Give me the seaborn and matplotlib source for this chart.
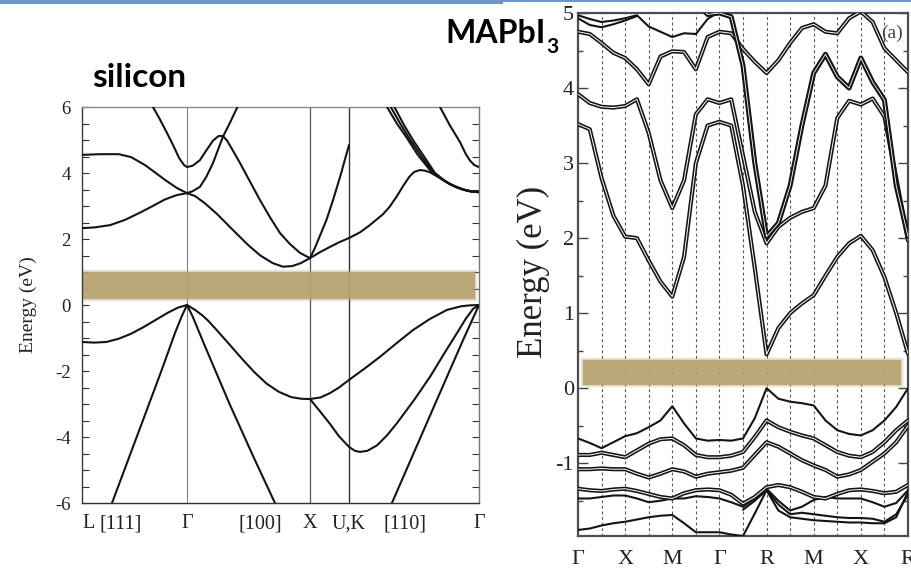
import matplotlib
matplotlib.use("Agg")
import matplotlib.pyplot as plt
import matplotlib.patheffects as pe
from matplotlib.patches import Rectangle
from matplotlib.ticker import MultipleLocator
import pandas as pd
import seaborn as sns

# ---------------- silicon: L -> Gamma -> X -> U,K -> Gamma ----------------
SI_KPOINTS = [0.0, 0.854, 1.854, 2.171, 3.228]
SI_KLABELS = ["L", "Γ", "X", "U,K", "Γ"]
SI_DIR_K = [0.317, 1.447, 2.626]
SI_DIR_LABELS = ["[111]", "[100]", "[110]"]
SI_GAP_K = [0.01, 3.195]
SI_GAP_E = [0.17, 1.01]

# each band: list of (k, E) in eV
SI_B1 = [(0.0, -8.4), (0.244, -6.0), (0.5, -3.45), (0.65, -1.95), (0.756, -0.85), (0.81, -0.35), (0.854, 0.0)]
SI_B2 = [(0.0, -1.12), (0.1, -1.14), (0.2, -1.12), (0.3, -1.02), (0.4, -0.87), (0.5, -0.67),
         (0.6, -0.45), (0.7, -0.23), (0.78, -0.08), (0.854, 0.0)]
SI_B3 = [(0.0, 2.33), (0.1, 2.35), (0.228, 2.42), (0.35, 2.58), (0.472, 2.8), (0.575, 3.0),
         (0.675, 3.2), (0.77, 3.33), (0.854, 3.39)]
SI_B4 = [(0.0, 4.55), (0.15, 4.57), (0.3, 4.57), (0.4, 4.48), (0.512, 4.24), (0.6, 4.0), (0.675, 3.79),
         (0.77, 3.55), (0.854, 3.39), (0.92, 3.3), (1.0, 3.08), (1.1, 2.75), (1.228, 2.27), (1.35, 1.82),
         (1.45, 1.5), (1.55, 1.27), (1.634, 1.16), (1.71, 1.18), (1.78, 1.27), (1.854, 1.42)]
SI_B5 = [(0.5, 6.5), (0.577, 6.0), (0.63, 5.65), (0.69, 5.22), (0.74, 4.85), (0.79, 4.45), (0.83, 4.24),
         (0.854, 4.18), (0.9, 4.22), (0.959, 4.39), (1.01, 4.68), (1.065, 4.98), (1.11, 5.12), (1.146, 5.12),
         (1.18, 4.98), (1.23, 4.66), (1.285, 4.3), (1.36, 3.78), (1.447, 3.18), (1.53, 2.65), (1.61, 2.18),
         (1.69, 1.85), (1.772, 1.58), (1.854, 1.42)]
SI_B6 = [(0.854, 3.39), (0.9, 3.45), (0.959, 3.58), (1.01, 3.88), (1.065, 4.3), (1.146, 5.1),
         (1.2, 5.5), (1.26, 5.97), (1.32, 6.5)]
SI_B7 = [(1.854, 1.42), (1.895, 1.74), (1.935, 2.1), (1.99, 2.6), (2.041, 3.18), (2.1, 3.9), (2.171, 4.85)]
SI_B8 = [(1.854, 1.42), (1.935, 1.6), (2.016, 1.76), (2.09, 1.9), (2.171, 2.03), (2.26, 2.2), (2.34, 2.42),
         (2.447, 2.75), (2.5, 2.97), (2.561, 3.3), (2.61, 3.6), (2.66, 3.88), (2.7, 4.03), (2.748, 4.09),
         (2.79, 4.07), (2.83, 4.02), (2.9, 3.87), (2.95, 3.75), (3.03, 3.6), (3.1, 3.5), (3.17, 3.44),
         (3.228, 3.42)]
SI_B9A = [(2.42, 6.4), (2.48, 6.0), (2.56, 5.5), (2.642, 5.06), (2.73, 4.55), (2.829, 4.09), (2.9, 3.88),
          (2.967, 3.72), (3.03, 3.6), (3.1, 3.5), (3.17, 3.44), (3.228, 3.42)]
SI_B9B = [(2.45, 6.4), (2.51, 6.0), (2.59, 5.48), (2.67, 5.0), (2.76, 4.5), (2.85, 4.05), (2.92, 3.84),
          (2.98, 3.68), (3.04, 3.58), (3.1, 3.5), (3.17, 3.44), (3.228, 3.42)]
SI_B9C = [(2.48, 6.4), (2.54, 6.0), (2.62, 5.44), (2.70, 4.95), (2.79, 4.45), (2.87, 4.0), (2.94, 3.79),
          (3.0, 3.64), (3.06, 3.54), (3.12, 3.47), (3.17, 3.43), (3.228, 3.42)]
SI_B10 = [(2.87, 6.4), (2.911, 6.0), (2.99, 5.45), (3.073, 4.94), (3.12, 4.58), (3.154, 4.38),
          (3.19, 4.24), (3.228, 4.18)]
SI_B11 = [(0.854, 0.0), (0.92, -0.15), (0.98, -0.32), (1.024, -0.47), (1.1, -0.78), (1.2, -1.2),
          (1.301, -1.63), (1.4, -2.03), (1.5, -2.38), (1.6, -2.63), (1.7, -2.79), (1.78, -2.84),
          (1.854, -2.85), (1.94, -2.8), (2.016, -2.67), (2.09, -2.5), (2.171, -2.27), (2.3, -1.92),
          (2.423, -1.57), (2.56, -1.15), (2.691, -0.76), (2.83, -0.42), (2.967, -0.15), (3.08, -0.04),
          (3.154, -0.01), (3.228, 0.0)]
SI_B12 = [(1.854, -2.85), (1.93, -3.2), (2.016, -3.6), (2.09, -3.98), (2.171, -4.3), (2.22, -4.42),
          (2.26, -4.45), (2.32, -4.42), (2.4, -4.25), (2.48, -3.95), (2.561, -3.58), (2.7, -2.88),
          (2.829, -2.18), (2.94, -1.5), (3.049, -0.85), (3.12, -0.42), (3.179, -0.12), (3.228, 0.0)]
SI_B13 = [(0.854, 0.0), (0.9, -0.35), (1.0, -1.25), (1.2, -3.0), (1.4, -4.65), (1.569, -6.0), (1.854, -8.4)]
SI_B14 = [(2.171, -8.97), (2.52, -6.0), (2.9, -2.75), (3.1, -1.05), (3.228, 0.0)]

# ---------------- MAPbI3: Gamma-X-M-Gamma-R-M-X-R ----------------
MA_KPOINTS = [0, 1, 2, 3, 4, 5, 6, 7]
MA_KLABELS = ["Γ", "X", "M", "Γ", "R", "M", "X", "R"]
MA_GRID_K = [0.5, 1.0, 1.5, 2.0, 2.5, 3.0, 3.5, 4.0, 4.5, 5.0, 5.5, 6.0, 6.5]
MA_GAP_K = [0.1, 6.86]
MA_GAP_E = [0.04, 0.37]

MA_K = [0.0, 0.25, 0.5, 0.75, 1.0, 1.25, 1.5, 1.75, 2.0, 2.25, 2.5, 2.75, 3.0, 3.25, 3.5,
        3.75, 4.0, 4.25, 4.5, 4.75, 5.0, 5.25, 5.5, 5.75, 6.0, 6.25, 6.5, 6.75, 7.0]
VB1 = [-0.67, -0.73, -0.80, -0.72, -0.64, -0.60, -0.52, -0.43, -0.24, -0.47, -0.67, -0.70, -0.69, -0.70, -0.67,
       -0.40, 0.00, -0.14, -0.18, -0.20, -0.23, -0.43, -0.56, -0.61, -0.63, -0.56, -0.43, -0.25, 0.00]
VB2 = [-0.89, -0.89, -0.86, -0.89, -0.92, -0.83, -0.74, -0.68, -0.67, -0.76, -0.89, -0.92, -0.92, -0.90, -0.85,
       -0.65, -0.43, -0.52, -0.58, -0.63, -0.67, -0.76, -0.85, -0.90, -0.92, -0.85, -0.72, -0.56, -0.43]
VB3 = [-1.08, -1.08, -1.07, -1.08, -1.08, -1.14, -1.19, -1.14, -1.08, -1.11, -1.18, -1.14, -1.12, -1.10, -1.06,
       -0.89, -0.72, -0.78, -0.87, -0.96, -1.03, -1.09, -1.18, -1.15, -1.09, -0.98, -0.87, -0.72, -0.50]
VB4 = [-1.34, -1.36, -1.37, -1.35, -1.34, -1.37, -1.41, -1.45, -1.47, -1.40, -1.36, -1.35, -1.36, -1.42, -1.54,
       -1.45, -1.32, -1.29, -1.32, -1.38, -1.45, -1.47, -1.41, -1.36, -1.35, -1.37, -1.40, -1.38, -1.29]
VB5 = [-1.47, -1.47, -1.45, -1.43, -1.43, -1.47, -1.52, -1.50, -1.47, -1.47, -1.44, -1.45, -1.47, -1.52, -1.58,
       -1.47, -1.34, -1.50, -1.63, -1.58, -1.49, -1.45, -1.47, -1.47, -1.47, -1.52, -1.58, -1.53, -1.36]
VB6_K = [3.5, 3.75, 4.0, 4.25, 4.5, 4.75, 5.0, 5.25, 5.5, 5.75, 6.0, 6.25, 6.5, 6.75, 7.0]
VB6 = [-1.62, -1.50, -1.36, -1.55, -1.68, -1.66, -1.68, -1.70, -1.72, -1.73, -1.73, -1.74, -1.78, -1.68, -1.42]
VB7 = [-1.89, -1.87, -1.83, -1.80, -1.78, -1.75, -1.72, -1.70, -1.69, -1.80, -1.92, -1.92, -1.92, -1.95, -1.97,
       -1.67, -1.36, -1.63, -1.72, -1.74, -1.76, -1.77, -1.78, -1.79, -1.79, -1.80, -1.80, -1.72, -1.38]
CB1 = [3.52, 3.45, 2.80, 2.30, 2.02, 2.00, 1.70, 1.42, 1.22, 1.75, 3.00, 3.50, 3.55, 3.50, 2.70,
       1.60, 0.45, 0.80, 1.00, 1.13, 1.24, 1.50, 1.75, 1.93, 2.03, 1.84, 1.48, 1.00, 0.46]
CB2 = [3.92, 3.80, 3.75, 3.74, 3.76, 3.85, 3.40, 2.77, 2.40, 2.77, 3.65, 3.85, 3.80, 3.85, 3.10,
       2.35, 1.93, 2.15, 2.27, 2.35, 2.40, 2.70, 3.60, 3.83, 3.78, 3.86, 3.62, 2.80, 1.97]
CB4_K = [2.5, 2.75, 3.0, 3.25, 3.5, 3.75, 4.0, 4.25, 4.5, 4.75, 5.0, 5.25, 5.5, 5.75, 6.0, 6.25, 6.5, 6.75, 7.0]
CB4 = [5.15, 4.98, 5.00, 4.95, 4.30, 3.00, 2.02, 2.20, 2.70, 3.50, 4.20, 4.45, 4.15, 4.00, 4.40, 4.08, 3.84, 2.70, 2.02]
U1 = [4.75, 4.72, 4.60, 4.47, 4.40, 4.25, 4.05, 4.42, 4.49, 4.48, 4.25, 4.68, 4.75, 4.73, 4.52,
      4.35, 4.20, 4.37, 4.60, 4.80, 4.85, 4.75, 4.73, 4.93, 5.02, 4.88, 4.53, 4.37, 4.21]
U2_K = [0.0, 0.25, 0.5, 0.75, 1.0, 1.25, 1.5, 1.75, 2.0, 2.25, 2.5, 2.75, 3.0]
U2 = [4.97, 4.92, 4.88, 4.90, 4.93, 4.97, 4.82, 4.75, 4.68, 4.73, 4.72, 4.92, 5.02]
U3_K = [0.0, 0.25, 0.5, 0.75, 1.0, 1.25]
U3 = [4.93, 4.84, 4.81, 4.85, 4.90, 4.96]

INK = "#141414"
GAP_COLOR = "#b4a36e"

sns.set_style("white")
plt.rcParams["font.family"] = ["Liberation Serif", "DejaVu Serif"]
plt.rcParams["axes.unicode_minus"] = False
plt.rcParams["lines.solid_joinstyle"] = "round"
plt.rcParams["lines.solid_capstyle"] = "round"


def pairs_frame(named):
    rows = [(name, k, e) for name, pts in named for k, e in pts]
    return pd.DataFrame(rows, columns=["band", "k", "E"])


def grid_frame(named):
    rows = [(name, k, e) for name, ks, es in named for k, e in zip(ks, es)]
    return pd.DataFrame(rows, columns=["band", "k", "E"])


def draw_bands(ax, df, hollow=False, lw=1.3, outer=2.8):
    kw = dict(data=df, x="k", y="E", units="band", estimator=None, sort=False,
              ax=ax, legend=False, zorder=3)
    if hollow:
        sns.lineplot(**kw, color="white", lw=lw,
                     path_effects=[pe.Stroke(linewidth=outer, foreground=INK), pe.Normal()])
    else:
        sns.lineplot(**kw, color=INK, lw=lw)
    ax.set_xlabel("")
    ax.set_ylabel("")


def soft_band(ax, k_span, e_span):
    # gap highlight with slightly feathered edges
    tr = ax.transData
    inv = tr.inverted()
    (x0, y0), (x1, y1) = tr.transform([(k_span[0], e_span[0]), (k_span[1], e_span[1])])
    for grow, a in [(3.0, 0.10), (2.0, 0.15), (1.0, 0.25), (0.0, 0.88)]:
        (a0, b0), (a1, b1) = inv.transform([(x0 - grow, y0 - grow), (x1 + grow, y1 + grow)])
        ax.add_patch(Rectangle((a0, b0), a1 - a0, b1 - b0, facecolor=GAP_COLOR,
                               edgecolor="none", alpha=a, zorder=2))


fig = plt.figure(figsize=(9.11, 5.75), dpi=100)
fig.patch.set_facecolor("white")

# ---------- silicon panel ----------
ax1 = fig.add_axes([82 / 911, 1 - 503 / 575, 397 / 911, 396 / 575])
ax1.set_xlim(SI_KPOINTS[0], SI_KPOINTS[-1])
ax1.set_ylim(-6, 6)

si_bands = [("b1", SI_B1), ("b2", SI_B2), ("b3", SI_B3), ("b4", SI_B4), ("b5", SI_B5),
            ("b6", SI_B6), ("b7", SI_B7), ("b8", SI_B8), ("b9a", SI_B9A), ("b9b", SI_B9B),
            ("b9c", SI_B9C), ("b10", SI_B10), ("b11", SI_B11), ("b12", SI_B12),
            ("b13", SI_B13), ("b14", SI_B14)]
draw_bands(ax1, pairs_frame(si_bands), lw=1.5)

for k, c, w in zip(SI_KPOINTS[1:4], ["#808080", "#555555", "#333333"], [0.8, 0.9, 1.0]):
    ax1.axvline(k, color=c, lw=w, zorder=1)

ax1.set_xticks(SI_KPOINTS, SI_KLABELS)
ax1.set_xticks(SI_DIR_K, SI_DIR_LABELS, minor=True)
ax1.get_xticklabels()[0].set_ha("left")
ax1.tick_params(axis="x", which="both", length=0, pad=8, labelsize=14.5, colors="#222222")
ax1.yaxis.set_major_locator(MultipleLocator(2))
ax1.yaxis.set_minor_locator(MultipleLocator(0.5))
ax1.tick_params(axis="y", which="both", direction="in", left=True, right=True,
                length=5, width=0.8, labelsize=13.5, pad=8, colors="#333333")
ax1.tick_params(axis="y", labelcolor="#222222")
for side, col in [("top", "#8c8c8c"), ("right", "#777777"), ("left", "#3a3a3a"), ("bottom", "#333333")]:
    ax1.spines[side].set_color(col)
    ax1.spines[side].set_linewidth(1.0)
soft_band(ax1, SI_GAP_K, SI_GAP_E)

# ---------- MAPbI3 panel ----------
ax2 = fig.add_axes([578 / 911, 1 - 536 / 575, 330 / 911, 523 / 575])
ax2.set_xlim(MA_KPOINTS[0], MA_KPOINTS[-1])
ax2.set_ylim(-1.97, 5.0)
for k in MA_GRID_K:
    ax2.axvline(k, color="#555555", lw=0.8, ls=(0, (2.5, 2.5)), zorder=1)

single = grid_frame([("vb1", MA_K, VB1), ("vb5", MA_K, VB5),
                     ("vb6", VB6_K, VB6), ("vb7", MA_K, VB7), ("u2", U2_K, U2), ("u3", U3_K, U3)])
split = grid_frame([("vb2", MA_K, VB2), ("vb3", MA_K, VB3), ("vb4", MA_K, VB4), ("cb1", MA_K, CB1),
                    ("cb2", MA_K, CB2), ("u1", MA_K, U1)])
heavy = grid_frame([("cb4", CB4_K, CB4)])
draw_bands(ax2, single, lw=1.5)
draw_bands(ax2, split, hollow=True, lw=0.7, outer=3.0)
draw_bands(ax2, heavy, hollow=True, lw=0.6, outer=3.6)

ax2.set_xticks(MA_KPOINTS, MA_KLABELS)
ax2.tick_params(axis="x", length=0, pad=10, labelsize=16, colors="#222222")
ax2.yaxis.set_major_locator(MultipleLocator(1))
ax2.yaxis.set_minor_locator(MultipleLocator(0.5))
ax2.tick_params(axis="y", which="major", direction="in", left=True, right=True,
                length=7, width=1.0, labelsize=16, pad=3, colors="#444444", labelcolor="#222222")
ax2.tick_params(axis="y", which="minor", direction="in", left=True, right=True,
                length=3.5, width=1.0, colors="#444444")
for side in ["top", "right", "left", "bottom"]:
    ax2.spines[side].set_color("#4d4d4d")
    ax2.spines[side].set_linewidth(1.6)
ax2.text(0.951, 0.962, "(a)", transform=ax2.transAxes, ha="center", va="center",
         fontsize=14, color="#444444")
soft_band(ax2, MA_GAP_K, MA_GAP_E)

# ---------- axis titles ----------
fig.text(28 / 911, 1 - 305 / 575, "Energy (eV)", rotation=90, ha="center", va="center",
         fontsize=14, color="#222222")
fig.text(533 / 911, 1 - 272 / 575, "Energy (eV)", rotation=90, ha="center", va="center",
         fontsize=25, color="#222222")

title_font = dict(family=["Lato", "DejaVu Sans"], weight="bold", color="black")
fig.text(92 / 911, 1 - 87 / 575, "silicon", ha="left", va="baseline", fontsize=24, **title_font)
t_ma = fig.text(445 / 911, 1 - 43 / 575, "MAPbI", ha="left", va="baseline", fontsize=23, **title_font)
renderer = fig.canvas.get_renderer()
bb = t_ma.get_window_extent(renderer)
fig.text((bb.x1 + 1) / 911, 1 - 53 / 575, "3", ha="left", va="baseline", fontsize=15, **title_font)

# slide header rule
fig.add_artist(Rectangle((0, 1 - 3.5 / 575), 503 / 911, 3.5 / 575, transform=fig.transFigure,
                         facecolor="#6e96c8", edgecolor="none", zorder=10))
fig.add_artist(Rectangle((503 / 911, 1 - 2 / 575), 1 - 503 / 911, 2 / 575, transform=fig.transFigure,
                         facecolor="#6e96c8", edgecolor="none", zorder=10))

fig.savefig("out.png", dpi=100, facecolor="white")
